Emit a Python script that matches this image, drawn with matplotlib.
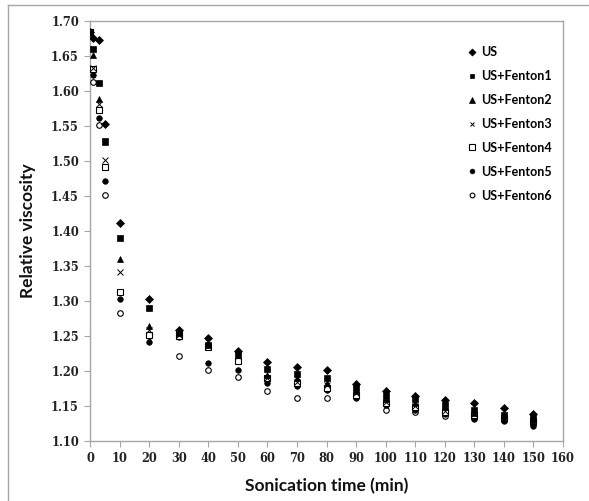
import matplotlib
matplotlib.use('Agg')
import matplotlib.pyplot as plt
from matplotlib.lines import Line2D

# Sonication time (min)
time = [0, 1, 3, 5, 10, 20, 30, 40, 50, 60, 70, 80, 90, 100, 110, 120, 130, 140, 150]

# Relative viscosity for each treatment
us      = [1.685, 1.676, 1.673, 1.553, 1.411, 1.303, 1.258, 1.247, 1.228, 1.213, 1.206, 1.201, 1.182, 1.171, 1.165, 1.159, 1.154, 1.147, 1.139]
fenton1 = [1.685, 1.660, 1.611, 1.529, 1.390, 1.290, 1.254, 1.237, 1.225, 1.203, 1.196, 1.190, 1.176, 1.165, 1.160, 1.152, 1.145, 1.137, 1.133]
fenton2 = [1.685, 1.651, 1.589, 1.527, 1.360, 1.264, 1.258, 1.240, 1.223, 1.195, 1.190, 1.183, 1.172, 1.160, 1.155, 1.148, 1.140, 1.133, 1.130]
fenton3 = [1.685, 1.633, 1.581, 1.501, 1.341, 1.258, 1.252, 1.236, 1.221, 1.190, 1.185, 1.180, 1.168, 1.156, 1.150, 1.143, 1.138, 1.131, 1.127]
fenton4 = [1.685, 1.631, 1.573, 1.491, 1.313, 1.251, 1.250, 1.235, 1.215, 1.190, 1.183, 1.176, 1.166, 1.155, 1.148, 1.142, 1.137, 1.133, 1.128]
fenton5 = [1.685, 1.623, 1.561, 1.471, 1.303, 1.241, 1.248, 1.211, 1.201, 1.183, 1.179, 1.173, 1.162, 1.151, 1.145, 1.138, 1.132, 1.128, 1.122]
fenton6 = [1.685, 1.613, 1.551, 1.451, 1.283, 1.250, 1.221, 1.201, 1.191, 1.171, 1.161, 1.161, 1.163, 1.144, 1.141, 1.136, 1.133, 1.130, 1.125]

labels = ['US', 'US+Fenton1', 'US+Fenton2', 'US+Fenton3', 'US+Fenton4', 'US+Fenton5', 'US+Fenton6']
series = [us, fenton1, fenton2, fenton3, fenton4, fenton5, fenton6]

# marker, size, face colour, edge width
styles = [
    ('D', 4.2, 'black', 0.5),
    ('s', 4.2, 'black', 0.5),
    ('^', 5.0, 'black', 0.5),
    ('x', 4.2, 'black', 0.7),
    ('s', 5.0, 'white', 0.8),
    ('o', 4.0, 'black', 0.5),
    ('o', 4.0, 'white', 0.8),
]

W, H = 589, 501
fig = plt.figure(figsize=(W / 100, H / 100), dpi=100)

# outer chart frame (only left/top visible)
grey = '#a6a6a6'
fig.add_artist(Line2D([8 / W, 8 / W], [0, 1 - 5 / H], color=grey, lw=1.0))
fig.add_artist(Line2D([8 / W, 1], [1 - 5 / H, 1 - 5 / H], color=grey, lw=1.0))

ax = fig.add_axes([90 / W, 1 - 441 / H, (563 - 90) / W, (441 - 21) / H])

handles = []
n = len(series)
for i, (vals, lab, (m, s, fc, ew)) in enumerate(zip(series, labels, styles)):
    # first series drawn on top, so the filled marks show at t=0
    h, = ax.plot(time, vals, linestyle='none', marker=m, markersize=s,
                 markerfacecolor=fc, markeredgecolor='black', markeredgewidth=ew,
                 color='black', label=lab, zorder=3 + n - i)
    handles.append(h)

ax.set_xlim(0, 160)
ax.set_ylim(1.10, 1.70)
ax.set_xticks(range(0, 161, 10))
ax.set_yticks([1.10 + 0.05 * i for i in range(13)])
ax.set_yticklabels(['%.2f' % (1.10 + 0.05 * i) for i in range(13)])

for sp in ax.spines.values():
    sp.set_color(grey)
    sp.set_linewidth(1.0)

ax.tick_params(axis='both', direction='out', length=4, width=0.8, color=grey,
               labelcolor='#222222', pad=4)
for lbl in ax.get_xticklabels() + ax.get_yticklabels():
    lbl.set_fontfamily('DejaVu Serif')
    lbl.set_fontweight('bold')
    lbl.set_fontsize(8.3)

ax.set_xlabel('Sonication time (min)', fontfamily='Lato', fontweight='bold',
              fontsize=12.5, labelpad=9, color='#111111')
ax.set_ylabel('Relative viscosity', fontfamily='Lato', fontweight='bold',
              fontsize=12.5, labelpad=11, color='#111111')

leg = ax.legend(handles=handles, loc='upper left',
                bbox_to_anchor=(456 / W, 1 - 35 / H),
                bbox_transform=fig.transFigure, frameon=False,
                prop=dict(family='Lato', weight='bold', size=9),
                handlelength=0.8, handletextpad=0.3, labelspacing=0.95,
                markerscale=0.85)

fig.savefig('out.png', dpi=100)
